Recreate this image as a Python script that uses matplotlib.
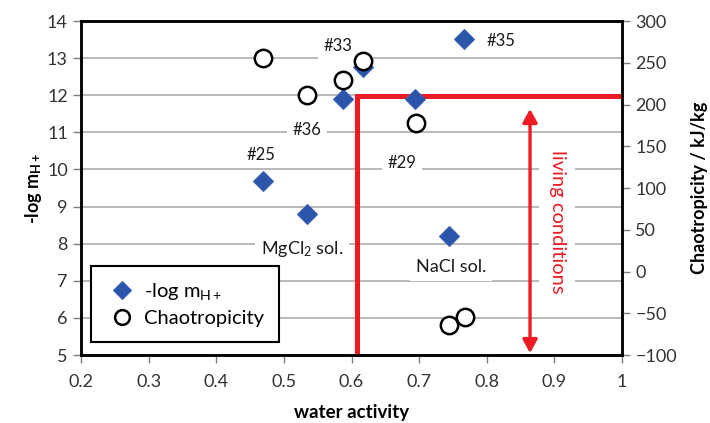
import matplotlib
matplotlib.use("Agg")
import matplotlib.pyplot as plt

plt.rcParams['font.family'] = ['Lato', 'DejaVu Sans']
plt.rcParams['mathtext.fontset'] = 'custom'
plt.rcParams['mathtext.rm'] = 'Lato'
plt.rcParams['mathtext.bf'] = 'Lato:bold'
plt.rcParams['mathtext.it'] = 'Lato:italic'

# --- data ---
aw_log = [0.469, 0.534, 0.587, 0.617, 0.694, 0.744, 0.766]
log_mH = [9.69, 8.80, 11.90, 12.76, 11.90, 8.21, 13.51]

aw_chao = [0.469, 0.534, 0.587, 0.617, 0.695, 0.744, 0.768]
chaotropicity = [256, 211, 229, 252, 178, -64, -54]

x_ticks = [0.2, 0.3, 0.4, 0.5, 0.6, 0.7, 0.8, 0.9, 1.0]
x_labels = ['0.2', '0.3', '0.4', '0.5', '0.6', '0.7', '0.8', '0.9', '1']
left_ticks = list(range(5, 15))
right_ticks = list(range(-100, 301, 50))

# living-condition limits
aw_min = 0.608
log_limit = 11.97

RED = '#ed1c24'
BLUE = '#2b55a8'
TICKC = '#333333'

fig = plt.figure(figsize=(7.10, 4.23), dpi=100)
ax = fig.add_axes([81 / 710, 1 - 355 / 423, 541 / 710, 334 / 423])

ax.set_xlim(0.2, 1.0)
ax.set_ylim(5, 14)
ax.set_xticks(x_ticks)
ax.set_xticklabels(x_labels)
ax.set_yticks(left_ticks)
ax.yaxis.grid(True, color='#a6a6a6', linewidth=1.1)
ax.set_axisbelow(True)
ax.tick_params(direction='out', length=6, width=1, colors='#7f7f7f',
               labelcolor=TICKC, labelsize=13)
ax.tick_params(axis='x', pad=8)
for s in ax.spines.values():
    s.set_linewidth(1.8)
    s.set_color('black')

# red boundary lines
ax.plot([aw_min, aw_min, 1.0], [5, log_limit, log_limit], color=RED,
        linewidth=3.6, solid_joinstyle='miter', solid_capstyle='butt', zorder=3)
ax.text(0.904, 8.58, 'living conditions', color=RED, fontsize=14.5,
        rotation=-90, ha='center', va='center',
        bbox=dict(fc='white', ec='none', pad=7), zorder=4)
ax.annotate('', xy=(0.864, 11.63), xytext=(0.864, 5.05),
            arrowprops=dict(arrowstyle='<|-|>,head_length=0.4,head_width=0.22',
                            color=RED, lw=2.4, mutation_scale=20,
                            shrinkA=0, shrinkB=0), zorder=5)

ax.plot(aw_log, log_mH, linestyle='none', marker='D', markersize=10.5,
        color=BLUE, markeredgecolor='#3a64b5', markeredgewidth=0.8,
        label='-log m$_{\\mathrm{H+}}$', zorder=5)

box = dict(fc='white', ec='none', pad=4)
labels = [('#33', 0.580, 13.33, 'center', 12), ('#36', 0.534, 11.05, 'center', 12),
          ('#25', 0.466, 10.39, 'center', 12), ('#35', 0.800, 13.46, 'left', 12),
          ('#29', 0.675, 10.17, 'center', 12),
          ('MgCl$_{\\mathrm{2}}$ sol.', 0.527, 7.86, 'center', 13),
          ('NaCl sol.', 0.747, 7.37, 'center', 13)]
for txt, x, y, ha, fs in labels:
    ax.text(x, y, txt, fontsize=fs, ha=ha, va='center', color='#1a1a1a',
            bbox=box, zorder=4)

ax.set_xlabel('water activity', fontsize=13.5, fontweight='bold', labelpad=10)
ax.set_ylabel('-log m$_{\\mathbf{H+}}$', fontsize=13, fontweight='bold', labelpad=2)

ax2 = ax.twinx()
ax2.set_ylim(-100, 300)
ax2.set_yticks(right_ticks)
ax2.tick_params(direction='out', length=6, width=1, colors='#7f7f7f',
                labelcolor=TICKC, labelsize=13)
for s in ax2.spines.values():
    s.set_linewidth(1.8)
    s.set_color('black')
ax2.plot(aw_chao, chaotropicity, linestyle='none', marker='o', markersize=12.5,
         markerfacecolor='white', markeredgecolor='black', markeredgewidth=1.8,
         label='Chaotropicity', zorder=5)
ax2.set_ylabel('Chaotropicity / kJ/kg', fontsize=13, fontweight='bold', labelpad=10)

h1, l1 = ax.get_legend_handles_labels()
h2, l2 = ax2.get_legend_handles_labels()
leg = ax2.legend(h1 + h2, l1 + l2, loc='lower left', bbox_to_anchor=(0.018, 0.039),
                 borderaxespad=0, fontsize=14.5, markerscale=0.85, fancybox=False,
                 framealpha=1, edgecolor='black', handletextpad=0.3,
                 handlelength=1.6, labelspacing=0.4, borderpad=0.75)
leg.get_frame().set_linewidth(1.5)

fig.savefig('out.png', dpi=100)
